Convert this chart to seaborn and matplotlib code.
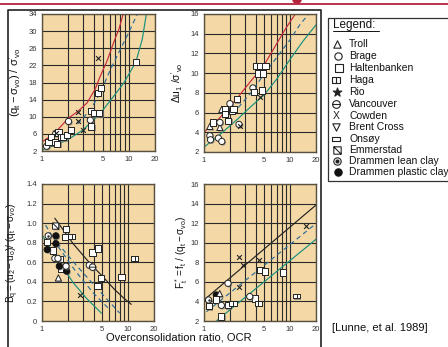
import matplotlib
matplotlib.use("Agg")
import matplotlib.pyplot as plt
import seaborn as sns
import pandas as pd
from matplotlib.path import Path
from matplotlib.patches import Rectangle, Ellipse
import matplotlib.patheffects as pe

# ---------------- data ----------------
sites = ["Troll", "Brage", "Haltenbanken", "Haga", "Rio", "Vancouver", "Cowden",
         "Brent Cross", "Onsøy", "Emmerstad", "Drammen lean clay", "Drammen plastic clay"]

# panel 1 : (qt - svo)/s'vo
p1_site = ["Brage"] * 5 + ["Haltenbanken"] * 16 + ["Cowden"] * 5
p1_ocr = [1.13, 1.33, 1.44, 2.02, 3.6,
          1.19, 1.26, 1.41, 1.50, 1.55, 1.66, 1.76, 1.93, 2.15, 3.7, 3.66, 4.0, 4.57, 4.4, 4.78, 12.05,
          1.46, 2.57, 2.57, 2.96, 4.41]
p1_val = [3.1, 3.9, 6.1, 8.9, 9.2,
          4.1, 5.2, 4.1, 3.7, 6.3, 5.3, 5.2, 5.7, 6.9, 7.7, 11.4, 10.8, 10.8, 15.5, 16.7, 22.8,
          6.2, 11.0, 8.9, 6.9, 23.8]
p1_red_ocr = [1, 1.4, 2.02, 2.57, 3.29, 4.1, 4.69, 5.6, 6.7, 7.7, 8.6]
p1_red_val = [4.1, 6.2, 9.7, 11.2, 13.2, 16.5, 19.5, 23, 27.4, 30.5, 34]
p1_blue_ocr = [2.57, 3.6, 4.69, 6.13, 8.0, 10.0, 12.5]
p1_blue_val = [8.3, 11.6, 15.6, 21.0, 25.8, 29.7, 34]
p1_green_ocr = [1, 1.93, 2.96, 4.69, 6.7, 8.75, 12.05, 14.3, 15.9]
p1_green_val = [2.2, 4.5, 6.9, 10.8, 14.8, 17.9, 22.8, 28.2, 34]

# panel 2 : du1/s'vo
p2_site = ["Troll"] * 3 + ["Brage"] * 8 + ["Haltenbanken"] * 14 + ["Cowden"] * 2
p2_ocr = [1.17, 1.53, 1.61,
          1.17, 1.19, 1.47, 1.61, 1.53, 2.0, 3.7, 2.55,
          1.28, 1.76, 1.76, 1.92, 2.1, 2.2, 2.41, 4.05, 4.5, 5.17, 4.3, 4.84, 3.83, 4.72,
          2.65, 4.5]
p2_val = [4.6, 4.5, 6.33,
          3.65, 3.24, 3.41, 3.07, 5.0, 6.9, 8.5, 4.8,
          5.0, 6.33, 5.83, 5.15, 6.16, 6.4, 7.34, 10.7, 10.7, 10.7, 9.96, 9.96, 8.07, 8.24,
          4.6, 7.6]
p2_red_ocr = [1, 1.5, 2.5, 3.5, 4.9, 7, 9, 11.5]
p2_red_val = [4.0, 5.4, 7.6, 9.2, 10.7, 13.0, 14.6, 16]
p2_blue_ocr = [2.5, 3.5, 4.9, 7, 10, 13.2, 16.5]
p2_blue_val = [6.5, 8.0, 9.8, 11.6, 13.4, 15.0, 16]
p2_green_ocr = [1, 1.5, 2.5, 3.5, 5, 7, 10, 14, 20]
p2_green_val = [2.5, 3.7, 5.4, 6.6, 7.8, 9.4, 11.4, 13.2, 14.9]

# panel 3 : Bq
p3_site = (["Emmerstad"] + ["Haltenbanken"] * 11 + ["Haga"] * 2 + ["Drammen lean clay"]
           + ["Drammen plastic clay"] * 5 + ["Brage"] * 4 + ["Troll", "Cowden", "Vancouver"])
p3_ocr = [1.44,
          1.90, 1.85, 1.15, 1.35, 1.6, 1.65, 3.87, 4.49, 4.83, 4.42, 8.4,
          2.21, 11.9,
          1.18,
          1.45, 1.45, 1.15, 1.59, 1.93,
          1.41, 1.53, 1.90, 3.54,
          1.55, 2.76, 3.87]
p3_val = [0.97,
          0.94, 0.86, 0.81, 0.72, 0.63, 0.53, 0.70, 0.74, 0.44, 0.36, 0.45,
          0.86, 0.64,
          0.87,
          0.87, 0.79, 0.73, 0.56, 0.51,
          0.64, 0.64, 0.56, 0.57,
          0.44, 0.27, 0.55]
p3_black_ocr = [1.41, 2.3, 3.6, 5.0, 7.0, 9.0, 10.9]
p3_black_val = [1.05, 0.79, 0.59, 0.46, 0.32, 0.23, 0.17]
p3_blueA_ocr = [1.1, 1.6, 2.5, 4.0, 5.9]
p3_blueA_val = [0.98, 0.74, 0.50, 0.28, 0.13]
p3_blueB_ocr = [1.5, 2.5, 4.0, 6.0, 8.0]
p3_blueB_val = [0.80, 0.57, 0.37, 0.20, 0.08]
p3_green_ocr = [1.0, 1.62, 2.31, 3.3, 4.9]
p3_green_val = [0.88, 0.59, 0.39, 0.23, 0.08]

# panel 4 : F*t
p4_site = (["Drammen lean clay", "Drammen plastic clay", "Troll"] + ["Haltenbanken"] * 8
           + ["Haga"] * 3 + ["Brage"] * 3 + ["Cowden"] * 5)
p4_ocr = [1.13, 1.39, 1.52,
          1.37, 1.14, 1.9, 1.59, 4.53, 5.09, 8.3, 3.88,
          2.17, 4.25, 11.9,
          1.59, 1.9, 3.4,
          2.55, 2.84, 2.55, 4.36, 15.2]
p4_val = [4.15, 4.66, 4.8,
          4.2, 3.5, 3.6, 2.45, 7.2, 7.05, 6.95, 4.3,
          3.8, 3.8, 4.55,
          3.6, 5.85, 4.5,
          8.5, 7.7, 5.45, 8.2, 11.7]
p4_black_ocr = [1, 20]
p4_black_val = [4.15, 13.85]
p4_blue_ocr = [1.07, 20.3]
p4_blue_val = [2.95, 12.0]
p4_green_ocr = [1.39, 20.3]
p4_green_val = [2.0, 10.4]

x_ticks = [1, 2, 3, 4, 5, 6, 7, 8, 9, 10, 20]
x_labels = ["1", "", "", "", "5", "", "", "", "", "10", "20"]
p1_yticks = [2, 6, 10, 14, 18, 22, 26, 30, 34]
p2_yticks = [2, 4, 6, 8, 10, 12, 14, 16]
p3_yticks = [0, 0.2, 0.4, 0.6, 0.8, 1.0, 1.2, 1.4]
p3_ylabels = ["0", "0.2", "0.4", "0.6", "0.8", "1.0", "1.2", "1.4"]
p4_yticks = [2, 4, 6, 8, 10, 12, 14, 16]

ylab1 = r"$(q_t - \sigma_{vo})\ /\ \sigma'_{vo}$"
ylab2 = r"$\Delta u_1\ /\sigma'_{vo}$"
ylab3 = r"$B_q =(u_2 - u_o)/\ (q_t - \sigma_{vo})$"
ylab4 = r"$F^*_t = f_t\ /\ (q_t - \sigma_{vo})$"

# ---------------- style ----------------
sns.set_theme(style="white")
plt.rcParams["font.family"] = ["Liberation Sans", "DejaVu Sans"]
plt.rcParams["mathtext.fontset"] = "custom"
plt.rcParams["mathtext.rm"] = "Liberation Sans"
plt.rcParams["mathtext.it"] = "Liberation Sans:italic"
plt.rcParams["mathtext.default"] = "regular"

PANEL = "#F4D9A6"
GRID = "#2a2a2a"
RED = "#C42A3C"
BLUE = "#2A6C98"
GREEN = "#18907E"
INK = "#222222"

MV, LV, CP = Path.MOVETO, Path.LINETO, Path.CLOSEPOLY
haga_m = Path([(-0.75, -0.5), (0.75, -0.5), (0.75, 0.5), (-0.75, 0.5), (-0.75, -0.5), (0, -0.5), (0, 0.5)],
              [MV, LV, LV, LV, CP, MV, LV])
onsoy_m = Path([(-0.9, -0.4), (0.9, -0.4), (0.9, 0.4), (-0.9, 0.4), (-0.9, -0.4)], [MV, LV, LV, LV, CP])
emm_m = Path([(-0.5, -0.5), (0.5, -0.5), (0.5, 0.5), (-0.5, 0.5), (-0.5, -0.5), (-0.5, 0.5), (0.5, -0.5)],
             [MV, LV, LV, LV, CP, MV, LV])
vanc_m = Path.make_compound_path(Path.unit_circle(), Path([(-1, 0), (1, 0)], [MV, LV]))

# marker, face, edge, size
STY = {
    "Troll": ("^", "white", INK, 20),
    "Brage": ("o", "white", INK, 20),
    "Haltenbanken": ("s", "white", INK, 20),
    "Haga": (haga_m, "white", INK, 26),
    "Rio": ("*", INK, INK, 30),
    "Vancouver": (vanc_m, "white", INK, 22),
    "Cowden": ("x", INK, INK, 12),
    "Brent Cross": ("v", "white", INK, 20),
    "Onsøy": (onsoy_m, "white", INK, 26),
    "Emmerstad": (emm_m, "white", INK, 20),
    "Drammen lean clay": ("o", "white", INK, 20),
    "Drammen plastic clay": ("o", "#111111", "#111111", 20),
}

fig = plt.figure(figsize=(4.48, 3.47), dpi=100)


def rect(l, t, r, b):
    return [l / 448, 1 - b / 347, (r - l) / 448, (b - t) / 347]


ax1 = fig.add_axes(rect(42, 14, 155, 151))
ax2 = fig.add_axes(rect(204, 14, 316, 152))
ax3 = fig.add_axes(rect(42, 184, 154, 321))
ax4 = fig.add_axes(rect(204, 184, 316, 321))


def style(ax, yticks, ylabels):
    ax.set_facecolor(PANEL)
    ax.set_xscale("log")
    ax.set_xlim(1, 20)
    ax.set_ylim(yticks[0], yticks[-1])
    ax.set_xticks(x_ticks, labels=x_labels)
    ax.xaxis.set_minor_locator(matplotlib.ticker.NullLocator())
    ax.set_yticks(yticks, labels=ylabels)
    ax.tick_params(length=0, labelsize=5.5, colors="#333333", pad=3.5)
    ax.grid(True, color=GRID, lw=0.8)
    ax.set_axisbelow(True)
    for s in ax.spines.values():
        s.set_color("#5a5040")
        s.set_linewidth(1.0)


style(ax1, p1_yticks, [str(v) for v in p1_yticks])
style(ax2, p2_yticks, [str(v) for v in p2_yticks])
style(ax3, p3_yticks, p3_ylabels)
style(ax4, p4_yticks, [str(v) for v in p4_yticks])


def curve(ax, xs, ys, color, ls="-"):
    sns.lineplot(x=xs, y=ys, ax=ax, color=color, linestyle=ls, lw=0.85,
                 sort=False, estimator=None, legend=False)


def points(ax, site, ocr, val):
    df = pd.DataFrame({"site": site, "ocr": ocr, "val": val})
    for name, g in df.groupby("site", sort=False):
        m, fc, ec, s = STY[name]
        if m == "x":
            sns.scatterplot(data=g, x="ocr", y="val", ax=ax, marker="x", s=s,
                            color=ec, linewidth=0.8, legend=False, zorder=5)
        else:
            sns.scatterplot(data=g, x="ocr", y="val", ax=ax, marker=m, s=s,
                            color=fc, edgecolor=ec, linewidth=0.7, legend=False, zorder=5)
            ax.collections[-1].set_path_effects(
                [pe.SimplePatchShadow(offset=(0.8, -0.8), shadow_rgbFace="#777777", alpha=0.7), pe.Normal()])
        if name == "Drammen lean clay":
            sns.scatterplot(data=g, x="ocr", y="val", ax=ax, marker="o", s=3,
                            color=INK, edgecolor=INK, linewidth=0, legend=False, zorder=6)


curve(ax1, p1_red_ocr, p1_red_val, RED)
curve(ax1, p1_blue_ocr, p1_blue_val, BLUE, (0, (4, 3)))
curve(ax1, p1_green_ocr, p1_green_val, GREEN)
points(ax1, p1_site, p1_ocr, p1_val)

curve(ax2, p2_red_ocr, p2_red_val, RED)
curve(ax2, p2_blue_ocr, p2_blue_val, BLUE, (0, (4, 3)))
curve(ax2, p2_green_ocr, p2_green_val, GREEN)
points(ax2, p2_site, p2_ocr, p2_val)

curve(ax3, p3_black_ocr, p3_black_val, INK)
curve(ax3, p3_blueA_ocr, p3_blueA_val, BLUE, (0, (4, 3)))
curve(ax3, p3_blueB_ocr, p3_blueB_val, BLUE, (0, (4, 3)))
curve(ax3, p3_green_ocr, p3_green_val, GREEN)
points(ax3, p3_site, p3_ocr, p3_val)

curve(ax4, p4_black_ocr, p4_black_val, INK)
curve(ax4, p4_blue_ocr, p4_blue_val, BLUE, (0, (4, 3)))
curve(ax4, p4_green_ocr, p4_green_val, GREEN)
points(ax4, p4_site, p4_ocr, p4_val)

for ax, lab, fs, lx in [(ax1, ylab1, 8, -0.165), (ax2, ylab2, 7.5, -0.17),
                        (ax3, ylab3, 7.2, -0.185), (ax4, ylab4, 7.2, -0.125)]:
    ax.set_xlabel("")
    ax.set_ylabel(lab, fontsize=fs, color="#111111")
    ax.yaxis.set_label_coords(lx, 0.5)

# ---------------- overlay: frame, legend, notes ----------------
ov = fig.add_axes([0, 0, 1, 1])
ov.set_xlim(0, 448)
ov.set_ylim(347, 0)
ov.axis("off")
ov.plot([0, 448], [4.3, 4.3], color="#B5223B", lw=1.3, solid_capstyle="butt")
ov.add_patch(Ellipse((297, 0), 8, 6, color="#B5223B"))
ov.plot([8, 8, 321, 321], [348, 10.3, 10.3, 348], color="#222222", lw=1.2)
ov.add_patch(Rectangle((327.5, 17.5), 130, 163.5, fill=False, ec="#333333", lw=0.9))

ov.text(333, 24.5, "Legend:", fontsize=8.5, va="center", ha="left", color="#111111")
ov.plot([333, 379], [30.5, 30.5], color="#111111", lw=0.7)

leg_y = [44, 55.5, 67.5, 80, 92, 104, 116, 127, 138.5, 150, 161, 172]
leg_x = [336.5, 338, 338.5, 335.5, 337, 336, 336, 336, 335.5, 337, 337, 338]
for name, yy, xx in zip(sites, leg_y, leg_x):
    m, fc, ec, s = STY[name]
    if m == "x":
        ov.text(xx, yy, "X", fontsize=7.5, ha="center", va="center", color=INK)
    else:
        ov.scatter([xx], [yy], marker=m, s=s * 1.4, facecolor=fc, edgecolor=ec, linewidth=0.8, zorder=5)
        if name == "Drammen lean clay":
            ov.scatter([xx], [yy], marker="o", s=4, color=INK, zorder=6)
    ov.text(349, yy, name, fontsize=7.5, va="center", ha="left", color="#111111")

ov.text(179, 338, "Overconsolidation ratio, OCR", fontsize=8, ha="center", va="center", color="#111111")
ov.text(332, 328, "[Lunne, et al. 1989]", fontsize=8, ha="left", va="center", color="#111111")

fig.savefig("out.png", dpi=100)
